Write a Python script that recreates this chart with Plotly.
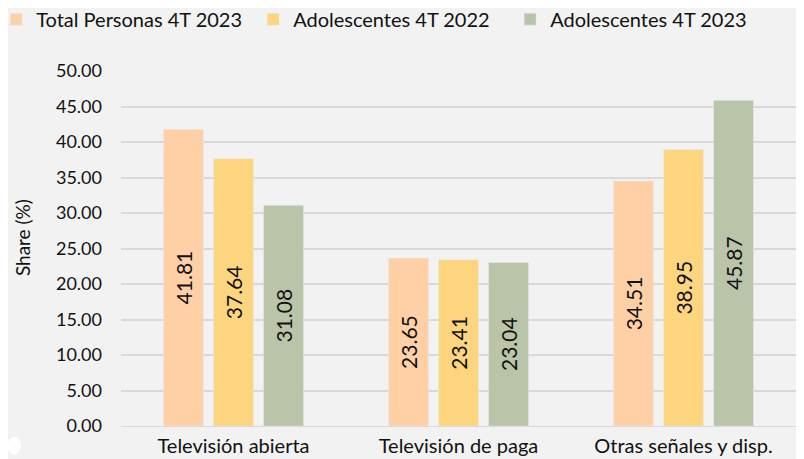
import plotly.graph_objects as go

categories = ["Televisión abierta", "Televisión de paga", "Otras señales y disp."]
series_names = ["Total Personas 4T 2023", "Adolescentes 4T 2022", "Adolescentes 4T 2023"]
total_2023 = [41.81, 23.65, 34.51]
adol_2022 = [37.64, 23.41, 38.95]
adol_2023 = [31.08, 23.04, 45.87]
colors = ["#FFD0A6", "#FCD57E", "#BAC4A8"]
ytick_vals = [0, 5, 10, 15, 20, 25, 30, 35, 40, 45, 50]

fnt = "Lato, 'DejaVu Sans', sans-serif"
fig = go.Figure()
for name, vals, c in zip(series_names, [total_2023, adol_2022, adol_2023], colors):
    fig.add_trace(go.Bar(
        x=categories, y=vals, name=name, marker_color=c,
        text=[f"{v:.2f}" for v in vals], textposition="inside",
        insidetextanchor="middle", textangle=-90,
        textfont=dict(size=21, color="#111111", family=fnt),
    ))

fig.update_layout(
    width=804, height=459,
    paper_bgcolor="#F2F2F2", plot_bgcolor="#F2F2F2",
    margin=dict(l=113, r=16, t=63, b=41, autoexpand=False),
    barmode="group", bargap=0.333, bargroupgap=0.2,
    font=dict(family=fnt, color="#111111"),
    showlegend=True,
    legend=dict(orientation="h", x=-0.185, xanchor="left", y=1.146, yanchor="middle",
                font=dict(size=20), itemwidth=30, entrywidth=212,
                traceorder="normal", bgcolor="rgba(0,0,0,0)"),
    xaxis=dict(showgrid=False, tickfont=dict(size=20), showline=True,
               linecolor="#D9D9D9", linewidth=1, ticklabelstandoff=2),
    yaxis=dict(range=[0, 50], tickvals=ytick_vals, tickformat=".2f",
               gridcolor="#D9D9D9", gridwidth=2, zeroline=False,
               tickfont=dict(size=18), ticklabelstandoff=18),
    annotations=[dict(text="Share (%)", textangle=-90, xref="paper", yref="paper",
                      x=-0.1467, y=0.532, xanchor="center", yanchor="middle",
                      showarrow=False, font=dict(size=19))],
)
fig.add_shape(type="circle", xref="paper", yref="paper",
              x0=-0.168, x1=-0.148, y0=-0.08, y1=-0.03,
              fillcolor="white", line_width=0)
fig.write_html("out.html")
